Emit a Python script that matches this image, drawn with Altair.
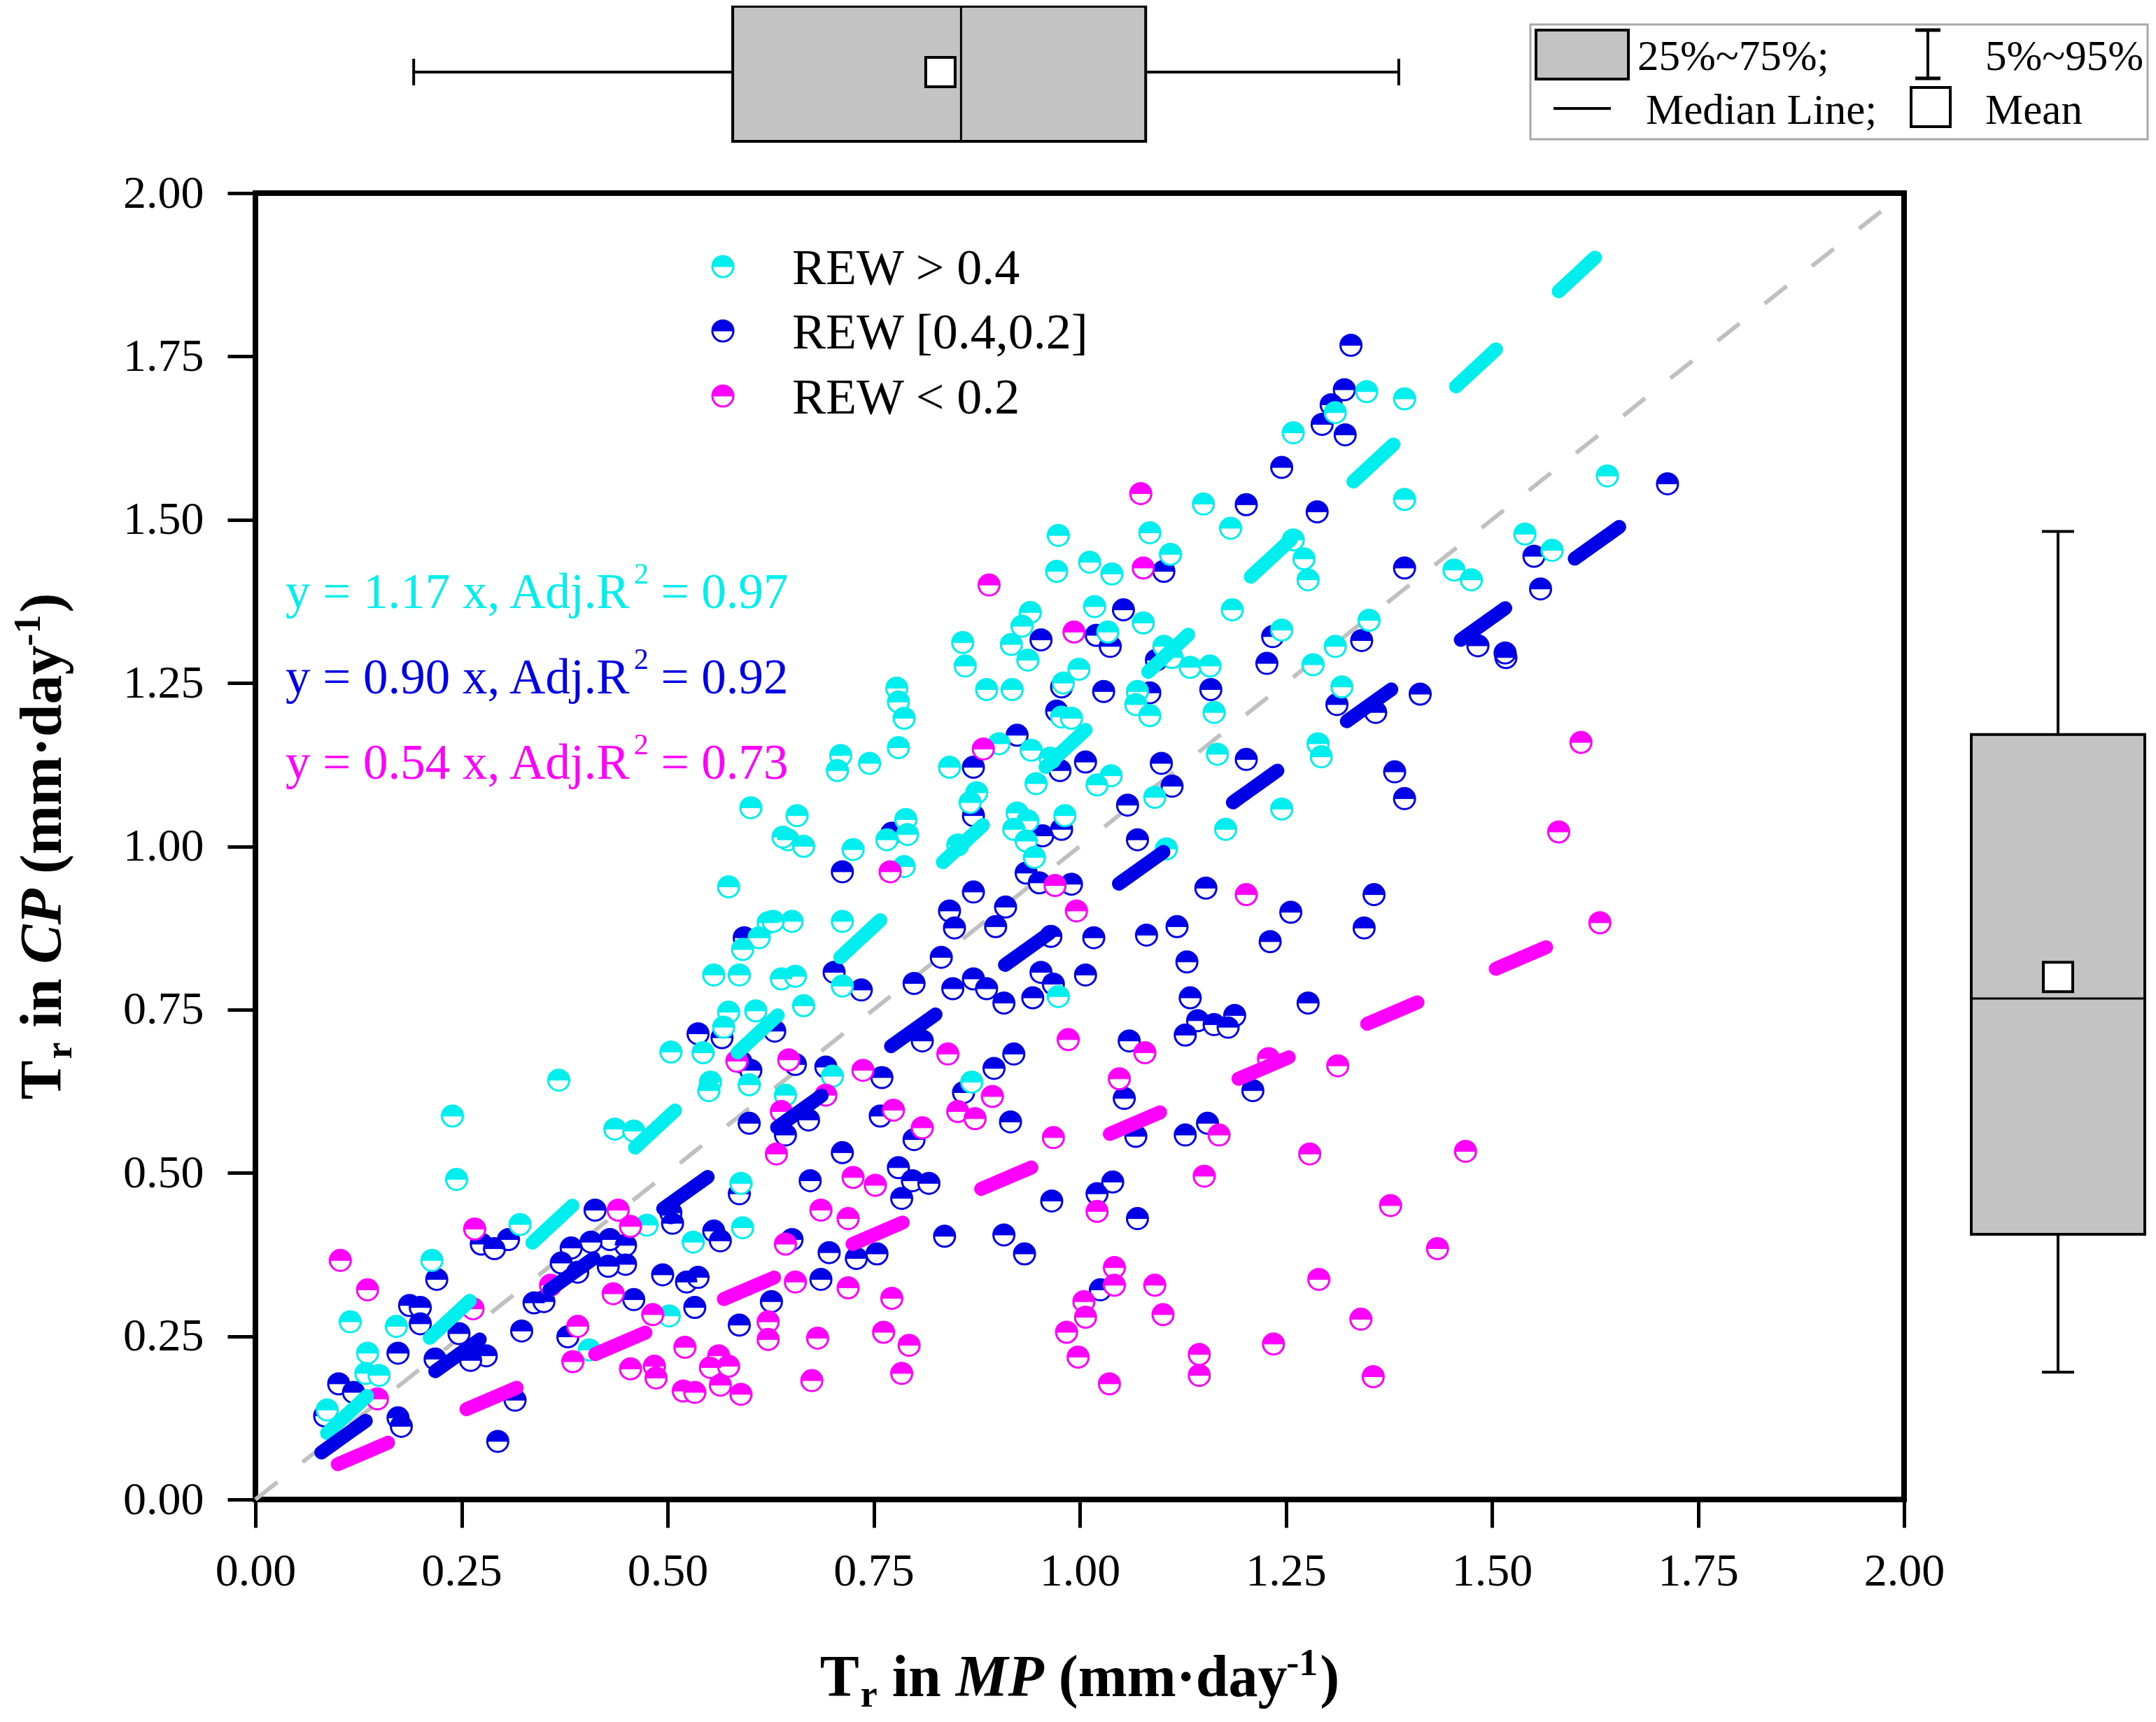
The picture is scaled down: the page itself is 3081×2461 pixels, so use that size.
import altair as alt
import pandas as pd

# ---------------- data ----------------
groups = ["REW > 0.4", "REW [0.4,0.2]", "REW < 0.2"]
colors = ["#00EEEE", "#0000E6", "#FF00FF"]

cyan_x = [0.239, 0.244, 0.436, 0.459, 0.552, 0.550, 0.589, 0.591, 0.531, 0.475, 0.599, 0.321, 0.214, 0.115,
          0.171, 0.136, 0.134, 0.150, 0.087, 0.405, 0.502, 0.504, 0.543, 0.368, 0.643, 0.700, 0.869, 0.601,
          0.646, 0.574, 0.622, 0.611, 0.591, 0.556, 0.587, 0.638, 0.574, 0.607, 0.568, 0.861, 0.937, 0.887,
          0.918, 0.778, 0.780, 0.787, 0.780, 0.710, 0.706, 0.745, 0.980, 0.978, 0.990, 1.070, 1.068, 1.085,
          1.163, 1.167, 1.091, 1.245, 1.177, 1.105, 1.021, 1.038, 0.902, 0.941, 0.964, 0.947, 0.842, 0.875,
          0.867, 0.657, 0.640, 0.665, 0.789, 0.791, 0.766, 0.725, 0.924, 0.937, 0.920, 0.935, 0.982, 0.852,
          0.945, 0.787, 0.651, 0.628, 0.712, 0.655, 0.665, 0.712, 0.974, 1.318, 1.289, 1.293, 1.348, 1.394,
          1.310, 1.259, 1.150, 1.394, 0.974, 1.085, 1.183, 1.640, 1.540, 1.573, 1.259, 1.272, 1.277, 1.110,
          1.012, 1.039, 0.972, 1.018, 1.077, 1.034, 1.185, 1.245, 1.351, 1.310, 1.102, 1.112, 1.134, 1.158,
          0.999, 1.283, 1.454, 1.475, 0.940, 0.930, 0.917, 0.858]
cyan_y = [0.587, 0.490, 0.567, 0.564, 0.639, 0.626, 0.484, 0.416, 0.394, 0.420, 0.635, 0.421, 0.366, 0.272,
          0.265, 0.224, 0.193, 0.190, 0.137, 0.229, 0.281, 0.685, 0.684, 0.642, 0.619, 0.648, 0.639, 1.059,
          1.010, 0.938, 0.883, 0.860, 0.842, 0.803, 0.803, 0.797, 0.746, 0.748, 0.723, 1.276, 1.285, 1.240,
          1.240, 1.242, 1.221, 1.196, 1.151, 1.139, 1.116, 1.127, 1.250, 1.198, 1.196, 1.237, 1.217, 1.200,
          1.205, 1.141, 1.075, 1.057, 1.026, 0.996, 1.094, 1.108, 1.157, 1.147, 1.135, 1.096, 1.121, 1.082,
          1.067, 1.047, 1.014, 1.000, 1.041, 1.018, 1.010, 0.995, 1.051, 1.039, 1.026, 1.008, 1.047, 1.002,
          0.983, 0.969, 0.885, 0.885, 0.885, 0.801, 0.756, 0.786, 0.770, 1.244, 1.157, 1.137, 1.696, 1.685,
          1.664, 1.633, 1.524, 1.531, 1.476, 1.480, 1.487, 1.567, 1.478, 1.453, 1.469, 1.440, 1.408, 1.447,
          1.435, 1.417, 1.421, 1.367, 1.342, 1.328, 1.362, 1.331, 1.346, 1.306, 1.306, 1.289, 1.274, 1.276,
          1.271, 1.278, 1.423, 1.408, 1.358, 1.337, 1.309, 1.312]

blue_x = [0.412, 0.587, 0.506, 0.504, 0.556, 0.564, 0.494, 0.523, 0.537, 0.533, 0.587, 0.626, 0.459, 0.449,
          0.449, 0.430, 0.428, 0.407, 0.383, 0.371, 0.391, 0.338, 0.350, 0.323, 0.379, 0.280, 0.261, 0.218,
          0.247, 0.173, 0.187, 0.200, 0.200, 0.101, 0.119, 0.084, 0.173, 0.177, 0.220, 0.274, 0.290, 0.307,
          0.294, 0.315, 0.599, 0.655, 0.692, 0.760, 0.920, 0.896, 0.859, 0.916, 0.671, 0.643, 0.758, 0.799,
          0.712, 0.673, 0.780, 0.797, 0.817, 0.784, 0.836, 0.908, 0.933, 0.966, 1.021, 1.040, 1.070, 1.054,
          1.068, 1.128, 1.155, 1.210, 1.025, 0.651, 0.696, 0.729, 0.754, 0.686, 0.593, 0.537, 0.566, 0.630,
          0.589, 0.601, 0.924, 1.029, 1.085, 1.159, 1.227, 0.978, 0.972, 0.871, 0.976, 1.007, 1.099, 1.202,
          1.112, 1.058, 0.871, 0.955, 0.978, 1.070, 0.772, 0.712, 1.153, 1.256, 0.871, 0.842, 0.910, 0.848,
          0.898, 0.935, 0.951, 0.990, 0.965, 1.017, 1.081, 1.118, 1.231, 1.130, 0.832, 0.702, 0.735, 0.799,
          0.846, 0.871, 0.887, 0.953, 0.968, 1.007, 0.908, 0.943, 1.134, 1.143, 1.163, 1.180, 1.188, 1.128,
          1.060, 0.809, 1.312, 1.359, 1.413, 1.517, 1.382, 1.394, 1.357, 1.345, 1.277, 1.329, 1.321, 1.305,
          1.294, 1.322, 1.245, 1.202, 1.288, 1.713, 1.551, 1.394, 1.102, 1.559, 1.483, 1.516, 1.053, 1.020,
          1.037, 1.234, 1.342, 1.093, 0.953]
blue_y = [0.443, 0.468, 0.423, 0.439, 0.411, 0.396, 0.344, 0.333, 0.340, 0.294, 0.267, 0.303, 0.306, 0.360,
          0.389, 0.398, 0.357, 0.394, 0.385, 0.362, 0.348, 0.301, 0.303, 0.258, 0.249, 0.220, 0.213, 0.215,
          0.254, 0.224, 0.297, 0.294, 0.269, 0.177, 0.164, 0.128, 0.125, 0.112, 0.337, 0.391, 0.384, 0.398,
          0.089, 0.152, 0.576, 0.666, 0.662, 0.646, 0.682, 0.660, 0.623, 0.578, 0.581, 0.558, 0.587, 0.551,
          0.531, 0.488, 0.508, 0.488, 0.484, 0.461, 0.403, 0.405, 0.376, 0.457, 0.468, 0.486, 0.430, 0.614,
          0.556, 0.558, 0.576, 0.626, 0.321, 0.398, 0.378, 0.369, 0.376, 0.337, 0.860, 0.713, 0.707, 0.717,
          0.670, 0.657, 1.170, 1.237, 1.235, 1.240, 1.280, 1.244, 1.207, 1.121, 1.116, 1.129, 1.127, 1.133,
          1.092, 1.063, 1.047, 1.016, 1.026, 1.010, 1.020, 0.961, 0.936, 0.899, 0.930, 0.901, 0.907, 0.875,
          0.877, 0.959, 0.944, 0.942, 0.862, 0.860, 0.864, 0.877, 0.854, 0.823, 0.830, 0.807, 0.780, 0.790,
          0.782, 0.797, 0.782, 0.807, 0.789, 0.803, 0.760, 0.768, 0.768, 0.733, 0.727, 0.723, 0.741, 0.711,
          0.702, 0.702, 1.217, 1.205, 1.233, 1.289, 1.114, 1.073, 0.926, 0.875, 0.760, 1.767, 1.699, 1.676,
          1.646, 1.630, 1.580, 1.523, 1.512, 1.555, 1.444, 1.426, 1.421, 1.394, 1.307, 1.296, 1.362, 1.323,
          1.306, 1.321, 1.315, 1.285, 1.316]

mag_x = [0.103, 0.136, 0.266, 0.264, 0.148, 0.440, 0.455, 0.358, 0.434, 0.391, 0.385, 0.455, 0.482, 0.484,
         0.486, 0.521, 0.519, 0.533, 0.552, 0.562, 0.574, 0.564, 0.589, 0.622, 0.622, 0.632, 0.638, 0.584,
         0.647, 0.737, 0.692, 0.774, 0.809, 0.852, 0.873, 0.894, 0.840, 1.048, 1.079, 0.968, 1.169, 1.151,
         1.021, 0.725, 0.752, 0.686, 0.719, 0.643, 0.655, 0.719, 0.772, 0.682, 0.762, 0.793, 0.675, 0.784,
         1.042, 1.042, 1.005, 1.007, 0.984, 0.998, 1.036, 1.091, 1.101, 1.145, 1.145, 1.235, 1.229, 1.313,
         1.279, 1.468, 1.377, 1.434, 1.290, 1.341, 1.356, 0.883, 0.770, 0.970, 0.996, 1.202, 0.986, 1.608,
         1.581, 1.631, 1.074, 1.077, 0.993, 0.890]
mag_y = [0.366, 0.321, 0.414, 0.292, 0.154, 0.443, 0.418, 0.328, 0.315, 0.265, 0.211, 0.200, 0.283, 0.204,
         0.186, 0.233, 0.166, 0.164, 0.202, 0.220, 0.204, 0.175, 0.161, 0.272, 0.245, 0.529, 0.594, 0.671,
         0.673, 0.657, 0.619, 0.596, 0.569, 0.594, 0.583, 0.617, 0.682, 0.644, 0.684, 0.554, 0.558, 0.495,
         0.441, 0.493, 0.481, 0.443, 0.430, 0.391, 0.333, 0.324, 0.308, 0.247, 0.256, 0.236, 0.182, 0.193,
         0.355, 0.328, 0.303, 0.279, 0.256, 0.218, 0.177, 0.328, 0.283, 0.222, 0.190, 0.238, 0.675, 0.664,
         0.529, 0.533, 0.450, 0.384, 0.337, 0.276, 0.188, 1.149, 0.961, 0.940, 0.901, 0.926, 0.704, 1.159,
         1.022, 0.883, 1.540, 1.426, 1.328, 1.400]

slopes = [1.17, 0.90, 0.54]
adj_r2 = [0.97, 0.92, 0.73]
fit_start = [0.087, 0.080, 0.100]
fit_end = [1.625, 1.713, 1.630]

box_keys = ["p5", "q1", "median", "mean", "q3", "p95"]
mp_box = [0.192, 0.579, 0.856, 0.831, 1.080, 1.387]   # T_r in MP (top box)
cp_box = [0.195, 0.406, 0.767, 0.800, 1.171, 1.482]   # T_r in CP (right box)

tick_values = [0.0, 0.25, 0.5, 0.75, 1.0, 1.25, 1.5, 1.75, 2.0]

# ---------------- layout constants ----------------
W, H = 2356, 1867
FONT = "Liberation Serif"
PT = 900
HALF = "M -1 0 A 1 1 0 0 1 1 0 Z"
BOXFILL = "#C3C3C3"

# Times metrics (Liberation Serif is metric compatible)
TR = {' ': 250, '=': 564, '.': 250, ',': 250, 'x': 500, 'y': 500, 'A': 722, 'd': 500, 'j': 278, 'R': 667}
for c in "0123456789":
    TR[c] = 500
TB = {'T': 667, 'r': 444, 'i': 278, 'n': 556, ' ': 250, '(': 333, 'm': 833, '\u00b7': 250,
      'd': 556, 'a': 500, 'y': 500, '-': 333, '1': 500, ')': 333}
TBI = {'M': 889, 'P': 611, 'C': 667}


def width(s, table, size):
    return sum(table[c] for c in s) * size / 1000.0


xs = alt.Scale(domain=[0, 2], nice=False, zero=False)
ys = alt.Scale(domain=[0, 2], nice=False, zero=False)
common_axis = dict(values=tick_values, format=".2f", title=None, grid=False, domain=False,
                   ticks=True, tickSize=40, tickWidth=5, tickColor="black",
                   labelFont=FONT, labelFontSize=66, labelColor="black",
                   labelFlush=False, labelOverlap=False, labelBound=False)
xaxis = alt.Axis(labelPadding=30, **common_axis)
yaxis = alt.Axis(labelPadding=34, **common_axis)


def X(f):
    return alt.X(f"{f}:Q", scale=xs, axis=xaxis)


def Y(f):
    return alt.Y(f"{f}:Q", scale=ys, axis=yaxis)


def one():
    return pd.DataFrame({"k": [0]})


def text_layer(s, x, y, size, color="black", weight="normal", style="normal", angle=0):
    return alt.Chart(pd.DataFrame({"t": [s]})).mark_text(
        align="left", baseline="alphabetic", font=FONT, fontSize=size, fontWeight=weight,
        fontStyle=style, color=color, angle=angle
    ).encode(x=alt.value(x), y=alt.value(y), text="t:N")


def run_layers(segs, x0, y0, angle=0):
    """Place text segments one after another (Vega trims end spaces, so
    leading spaces are turned into an offset). Each segment:
    (text, metrics, size, weight, style, baseline shift, colour, extra gap before)."""
    out = []
    pos = 0.0
    for s, table, size, wgt, sty, off, color, gap in segs:
        pos += gap
        lead = len(s) - len(s.lstrip(" "))
        core = s.strip(" ")
        p = pos + width(" " * lead, table, size)
        if angle == 0:
            out.append(text_layer(core, x0 + p, y0 + off, size, color, wgt, sty))
        else:
            out.append(text_layer(core, x0 + off, y0 - p, size, color, wgt, sty, angle=angle))
        pos += width(s, table, size)
    return out, pos


def seg_total(segs):
    return sum(width(s[0], s[1], s[2]) + s[7] for s in segs)


layers = []

# 1:1 line
diag = pd.DataFrame({"x": [0.0, 2.0], "y": [0.0, 2.0]})
layers.append(alt.Chart(diag).mark_line(color="#C0C0C0", strokeWidth=6, strokeDash=[40, 46]).encode(
    x=X("x"), y=Y("y")))

# points (blue, cyan, magenta order of drawing)
pts = {0: (cyan_x, cyan_y), 1: (blue_x, blue_y), 2: (mag_x, mag_y)}
for gi in [1, 0, 2]:
    px, py = pts[gi]
    d = pd.DataFrame({"x": px, "y": py})
    col = colors[gi]
    layers.append(alt.Chart(d).mark_point(shape="circle", filled=True, fill="white", stroke=col,
                                          strokeWidth=3, size=PT, opacity=1).encode(x=X("x"), y=Y("y")))
    layers.append(alt.Chart(d).mark_point(shape=HALF, filled=True, fill=col, stroke=col,
                                          strokeWidth=1, size=PT, opacity=1).encode(x=X("x"), y=Y("y")))

# regression lines
for gi in range(3):
    d = pd.DataFrame({"x": [fit_start[gi], fit_end[gi]],
                      "y": [fit_start[gi] * slopes[gi], fit_end[gi] * slopes[gi]]})
    layers.append(alt.Chart(d).mark_line(color=colors[gi], strokeWidth=20, strokeCap="round",
                                         strokeDash=[78, 122]).encode(x=X("x"), y=Y("y")))

# in-plot legend
leg_y = [105, 197, 290]
for gi in range(3):
    col = colors[gi]
    layers.append(alt.Chart(one()).mark_point(shape="circle", filled=True, fill="white", stroke=col,
                                              strokeWidth=3, size=PT, opacity=1).encode(
        x=alt.value(668), y=alt.value(leg_y[gi])))
    layers.append(alt.Chart(one()).mark_point(shape=HALF, filled=True, fill=col, stroke=col,
                                              strokeWidth=1, size=PT, opacity=1).encode(
        x=alt.value(668), y=alt.value(leg_y[gi])))
    layers.append(text_layer(groups[gi], 767, leg_y[gi] + 25, 72))

# equations
eq_y = [593, 715, 837]
EF, ES = 71, 42
for gi in range(3):
    col = colors[gi]
    segs = [(f"y = {slopes[gi]:.2f} x, Adj.R", TR, EF, "normal", "normal", 0, col, 0),
            ("2", TR, ES, "normal", "normal", -35, col, 2),
            (f" = {adj_r2[gi]:.2f}", TR, EF, "normal", "normal", 0, col, 0)]
    lay, _ = run_layers(segs, 43, eq_y[gi])
    layers.extend(lay)

# axis titles (composed for sub/superscript and italics)
TF, TS = 84, 54


def title_segments(mid, sub_off, sup_off):
    k = "black"
    return [("T", TB, TF, "bold", "normal", 0, k, 0), ("r", TB, TS, "bold", "normal", sub_off, k, 2),
            (" in ", TB, TF, "bold", "normal", 0, k, 0), (mid, TBI, TF, "bold", "italic", 0, k, 0),
            (" (mm\u00b7day", TB, TF, "bold", "normal", 0, k, 0),
            ("-1", TB, TS, "bold", "normal", sup_off, k, 6),
            (")", TB, TF, "bold", "normal", 0, k, 3)]


segs = title_segments("MP", 15, -30)
lay, _ = run_layers(segs, W / 2 - seg_total(segs) / 2, H + 281)
layers.extend(lay)

segs = title_segments("CP", 15, -30)
lay, _ = run_layers(segs, -278, H / 2 + seg_total(segs) / 2, angle=270)
layers.extend(lay)

# top box plot (T_r in MP)
mp = pd.DataFrame([dict(zip(box_keys, mp_box))])
TB_TOP, TB_BOT, TB_MID = -267, -74, -173
layers.append(alt.Chart(mp).mark_rule(color="black", strokeWidth=4).encode(
    x=X("p5"), x2="p95", y=alt.value(TB_MID)))
for k in ["p5", "p95"]:
    layers.append(alt.Chart(mp).mark_rule(color="black", strokeWidth=4).encode(
        x=X(k), y=alt.value(TB_MID - 19), y2=alt.value(TB_MID + 19)))
layers.append(alt.Chart(mp).mark_rect(fill=BOXFILL, stroke="black", strokeWidth=4).encode(
    x=X("q1"), x2="q3", y=alt.value(TB_TOP), y2=alt.value(TB_BOT)))
layers.append(alt.Chart(mp).mark_rule(color="black", strokeWidth=3).encode(
    x=X("median"), y=alt.value(TB_TOP), y2=alt.value(TB_BOT)))
layers.append(alt.Chart(mp).mark_point(shape="square", filled=True, fill="white", stroke="black",
                                       strokeWidth=4, size=42 * 42, opacity=1).encode(
    x=X("mean"), y=alt.value(TB_MID)))

# right box plot (T_r in CP)
cp = pd.DataFrame([dict(zip(box_keys, cp_box))])
RB_L, RB_R = 2452, 2700
RB_MID = (RB_L + RB_R) / 2
layers.append(alt.Chart(cp).mark_rule(color="black", strokeWidth=4).encode(
    y=Y("p5"), y2="p95", x=alt.value(RB_MID)))
for k in ["p5", "p95"]:
    layers.append(alt.Chart(cp).mark_rule(color="black", strokeWidth=4).encode(
        y=Y(k), x=alt.value(RB_MID - 23), x2=alt.value(RB_MID + 23)))
layers.append(alt.Chart(cp).mark_rect(fill=BOXFILL, stroke="black", strokeWidth=4).encode(
    y=Y("q1"), y2="q3", x=alt.value(RB_L), x2=alt.value(RB_R)))
layers.append(alt.Chart(cp).mark_rule(color="black", strokeWidth=3).encode(
    y=Y("median"), x=alt.value(RB_L), x2=alt.value(RB_R)))
layers.append(alt.Chart(cp).mark_point(shape="square", filled=True, fill="white", stroke="black",
                                       strokeWidth=4, size=42 * 42, opacity=1).encode(
    y=Y("mean"), x=alt.value(RB_MID)))

# box legend (top right)
layers.append(alt.Chart(one()).mark_rect(fill="white", stroke="#A8A8A8", strokeWidth=3).encode(
    x=alt.value(1822), x2=alt.value(2704), y=alt.value(-241), y2=alt.value(-77)))
layers.append(alt.Chart(one()).mark_rect(fill=BOXFILL, stroke="black", strokeWidth=4).encode(
    x=alt.value(1830), x2=alt.value(1962), y=alt.value(-233), y2=alt.value(-163)))
layers.append(alt.Chart(one()).mark_rule(color="black", strokeWidth=4).encode(
    x=alt.value(2390), y=alt.value(-233), y2=alt.value(-164)))
for yy in [-233, -164]:
    layers.append(alt.Chart(one()).mark_rule(color="black", strokeWidth=5).encode(
        x=alt.value(2372), x2=alt.value(2408), y=alt.value(yy)))
layers.append(alt.Chart(one()).mark_rule(color="black", strokeWidth=4).encode(
    x=alt.value(1855), x2=alt.value(1937), y=alt.value(-121)))
layers.append(alt.Chart(one()).mark_point(shape="square", filled=True, fill="white", stroke="black",
                                          strokeWidth=4, size=56 * 56, opacity=1).encode(
    x=alt.value(2394), y=alt.value(-123)))
LF = 61
layers.append(text_layer("25%~75%;", 1975, -176, LF))
layers.append(text_layer("5%~95%", 2472, -176, LF))
layers.append(text_layer("Median Line;", 1987, -99, LF))
layers.append(text_layer("Mean", 2472, -99, LF))

chart = alt.layer(*layers).properties(
    width=W, height=H,
    autosize=alt.AutoSizeParams(type="none"),
    padding={"left": 357, "top": 268, "right": 352, "bottom": 310},
    background="white",
).configure_view(stroke="black", strokeWidth=8)

chart.save("out.html", embed_options={"renderer": "svg", "actions": False})
